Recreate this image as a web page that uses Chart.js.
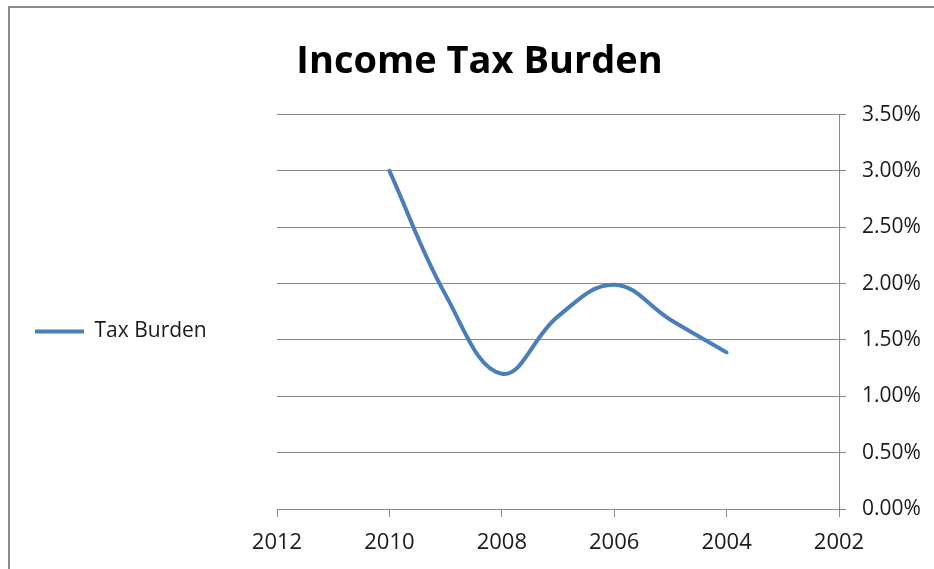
<!DOCTYPE html>
<html>
<head>
<meta charset="utf-8">
<script src="https://cdn.jsdelivr.net/npm/chart.js@4"></script>
<style>
    body { margin: 0; background: #fff; }
    #wrap { position: relative; width: 934px; height: 569px; overflow: hidden; }
    #frame {
        position: absolute; left: 8px; top: 6px; width: 1000px; height: 700px;
        border-left: 2px solid #8c8c8c; border-top: 2px solid #8c8c8c;
    }
    canvas { position: absolute; left: 0; top: 0; }
</style>
</head>
<body>
<div id="wrap">
    <div id="frame"></div>
    <canvas id="tax-chart" width="934" height="569"></canvas>
</div>
<script>
const years = [2010, 2009, 2008, 2007, 2006, 2005, 2004];
const tax_burden = [0.030, 0.019, 0.012, 0.0171, 0.0199, 0.0168, 0.0139];
const x_ticks = [2012, 2010, 2008, 2006, 2004, 2002];
const y_ticks = [0, 0.005, 0.01, 0.015, 0.02, 0.025, 0.03, 0.035];

const font_family = "'Open Sans', 'Noto Sans', sans-serif";
const axis_grey = "#8a8a8a";

// chart area edges
const pad_left = 25;
const area_left = 277;
const area_right = 839;
const area_bottom = 509;

const points = years.map((year, i) => ({ x: year, y: tax_burden[i] }));

// the key sits on the left like in Excel: widen its box so the plot starts at area_left,
// and drop it a bit lower than the Chart.js centre
const legend_box = {
    id: 'legend_box',
    afterInit(chart) {
        const legend = chart.legend;
        const fit = legend.fit;
        legend.fit = function () {
            fit.call(this);
            this.width = area_left - pad_left;
        };
    },
    afterLayout(chart) {
        chart.legend.top += 47;
        chart.legend.bottom += 47;
    }
};

new Chart(document.getElementById("tax-chart"), {
    type: 'scatter',
    data: {
        datasets: [{
            label: 'Tax Burden',
            data: points,
            showLine: true,
            borderColor: '#4a7ebb',
            backgroundColor: '#4a7ebb',
            borderWidth: 4,
            borderCapStyle: 'round',
            pointRadius: 0,
            tension: 0.4
        }]
    },
    plugins: [legend_box],
    options: {
        responsive: false,
        animation: false,
        layout: { padding: { left: pad_left, top: 0, right: 0, bottom: 0 } },
        plugins: {
            tooltip: { enabled: false },
            title: {
                display: true,
                text: 'Income Tax Burden',
                color: '#000',
                font: { family: font_family, size: 38, weight: 'bold', lineHeight: 1.2 },
                padding: { top: 39, bottom: 30 }
            },
            legend: {
                position: 'left',
                labels: {
                    usePointStyle: true,
                    pointStyle: 'line',
                    pointStyleWidth: 49,
                    boxHeight: 4,
                    padding: 10,
                    color: '#1a1a1a',
                    font: { family: font_family, size: 21 }
                }
            }
        },
        scales: {
            x: {
                type: 'linear',
                reverse: true,
                min: 2002,
                max: 2012,
                afterBuildTicks: (scale) => {
                    scale.ticks = x_ticks.map(v => ({ value: v }));
                },
                afterFit: (scale) => {
                    scale.height = 569 - area_bottom;
                },
                ticks: {
                    color: '#1a1a1a',
                    padding: 13,
                    font: { family: font_family, size: 22 },
                    callback: (v) => String(v)
                },
                grid: {
                    drawOnChartArea: false,
                    drawTicks: true,
                    tickLength: 8,
                    color: axis_grey
                },
                border: { display: true, color: axis_grey }
            },
            y: {
                position: 'right',
                min: 0,
                max: 0.035,
                afterBuildTicks: (scale) => {
                    scale.ticks = y_ticks.map(v => ({ value: v }));
                },
                afterFit: (scale) => {
                    scale.width = 934 - area_right;
                },
                ticks: {
                    color: '#1a1a1a',
                    padding: 16,
                    font: { family: font_family, size: 21 },
                    callback: (v) => (v * 100).toFixed(2) + '%'
                },
                grid: {
                    color: axis_grey,
                    tickLength: 7
                },
                border: { display: true, color: axis_grey }
            }
        }
    }
});
</script>
</body>
</html>
